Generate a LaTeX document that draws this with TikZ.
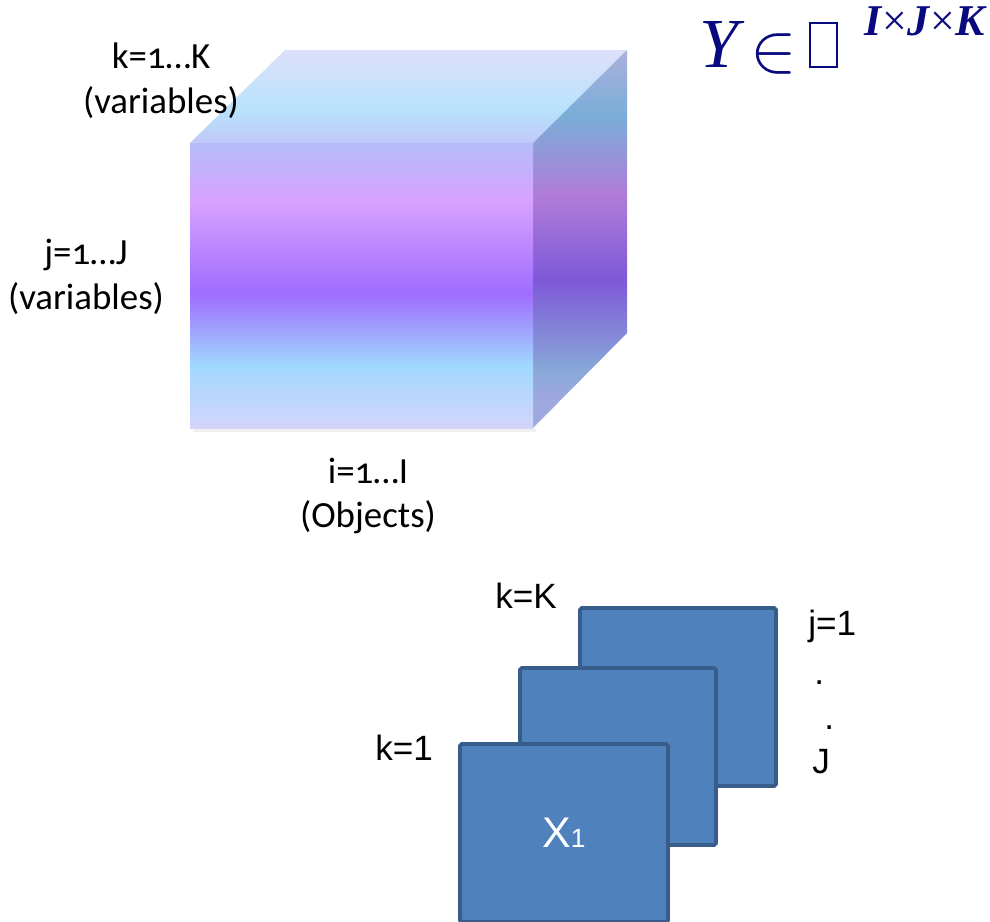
\documentclass[tikz,border=0pt]{standalone}
\usepackage{fontspec}
\setmainfont{Carlito}[Numbers=OldStyle]
\newfontfamily\arialfont{Liberation Sans}
\newfontfamily\timesfont{Liberation Serif}
\usetikzlibrary{positioning}

\definecolor{sliceblue}{HTML}{4F81BD}
\definecolor{sliceedge}{HTML}{385D8A}
\definecolor{mathnavy}{HTML}{0A0A80}
% cube colours
\definecolor{frontA}{HTML}{D4D4FA}
\definecolor{frontB}{HTML}{A0D8FF}
\definecolor{frontC}{HTML}{A06CFF}
\definecolor{frontD}{HTML}{D7A3FF}
\definecolor{frontE}{HTML}{B4BCF8}
\definecolor{rightA}{HTML}{A0A8E0}
\definecolor{rightB}{HTML}{88A8D8}
\definecolor{rightC}{HTML}{7E58D8}
\definecolor{rightD}{HTML}{B07CD8}
\definecolor{rightE}{HTML}{7AAED8}
\definecolor{rightF}{HTML}{A8B0DC}
\definecolor{topA}{HTML}{C0C8F8}
\definecolor{topB}{HTML}{B8E2FB}
\definecolor{topC}{HTML}{DEE0FA}

% shadings of the cube faces (bbox of the face = 25bp..75bp)
\pgfdeclareverticalshading{cubefront}{100bp}{
  color(0bp)=(frontA); color(25bp)=(frontA);
  color(36bp)=(frontB); color(48.7bp)=(frontC);
  color(65bp)=(frontD); color(75bp)=(frontE);
  color(100bp)=(frontE)}
\pgfdeclareverticalshading{cuberight}{100bp}{
  color(0bp)=(rightA); color(28.7bp)=(rightA);
  color(32.7bp)=(rightB); color(44.6bp)=(rightC);
  color(55.8bp)=(rightD); color(66.4bp)=(rightE);
  color(74.3bp)=(rightF); color(100bp)=(rightF)}
\pgfdeclareverticalshading{cubetop}{100bp}{
  color(0bp)=(topA); color(25bp)=(topA);
  color(42.7bp)=(topB); color(75bp)=(topC);
  color(100bp)=(topC)}

\tikzset{
  cubelabel/.style={align=center, inner sep=0pt, font=\fontsize{21}{25.5}\selectfont},
  slicelabel/.style={inner sep=0pt, anchor=base west, font=\arialfont\fontsize{20}{24}\selectfont},
  slice/.style={fill=sliceblue, draw=sliceedge, line width=2.2pt, rounded corners=1pt,
    minimum width=3.92cm, minimum height=3.56cm, inner sep=0pt},
}

\begin{document}
\begin{tikzpicture}[x=0.02cm, y=-0.02cm]
    \clip (0,0) rectangle (990,921);
    % cube
    \fill[black!6] (193,429) rectangle (536,432);
    \shade[shading=cubetop] (190,143) -- (285,50) -- (627,50) -- (533,143) -- cycle;
    \shade[shading=cuberight] (533,143) -- (627,50) -- (627,333) -- (533,428) -- cycle;
    \shade[shading=cubefront] (190,143) rectangle (533,428);
    % cube labels
    \node[cubelabel] (klab) at (161,81) {k=1…K\\(variables)};
    \node[cubelabel] (jlab) at (86,277) {j=1…J\\(variables)};
    \node[cubelabel] (ilab) at (368,496) {i=1…I\\(Objects)};
    % Y in R^{IxJxK}
    \node[inner sep=0pt, anchor=base west, text=mathnavy, font=\timesfont\itshape\fontsize{40}{42}\selectfont] (Y) at (699,67) {Y};
    \node[inner sep=0pt, text=mathnavy, font=\fontsize{24.88}{28}\selectfont] (in) at (774,54) {\scalebox{1.6}{$\in$}};
    \draw[mathnavy, line width=0.7pt] (810,23) rectangle (837,67);
    \node[inner sep=0pt, anchor=base west, text=mathnavy, font=\timesfont\fontsize{25}{28}\selectfont] (dims) at (864,35)
        {\textbf{\textit{I}}×\textbf{\textit{J}}×\textbf{\textit{K}}};
    % slices
    \node[slice] (sliceK) at (678,697) {};
    \node[slice, minimum height=3.54cm] (slicemid) at (618,756.5) {};
    \node[slice, minimum width=4.16cm, text=white, font=\arialfont\fontsize{24.4}{28}\selectfont] (slice1) at (564,833)
        {X{\fontsize{15}{18}\selectfont 1}};
    % slice labels
    \node[slicelabel] (kK) at (495,608) {k=K};
    \node[slicelabel] (k1) at (375,760) {k=1};
    \node[slicelabel] (j1) at (808,635) {j=1};
    \node[slicelabel] (dotA) at (814,684) {.};
    \node[slicelabel] (dotB) at (824,729) {.};
    \node[slicelabel] (jJ) at (812,773) {J};
\end{tikzpicture}
\end{document}
